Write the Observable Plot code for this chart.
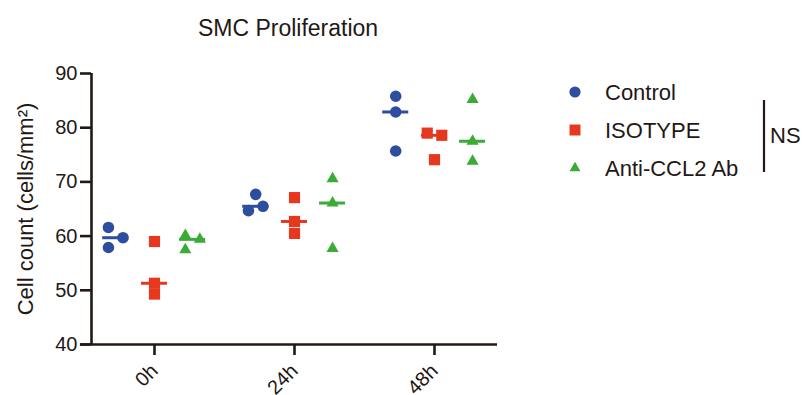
<!DOCTYPE html>
<html>
<head>
<meta charset="utf-8">
<script src="https://cdn.jsdelivr.net/npm/d3@7"></script>
<script src="https://cdn.jsdelivr.net/npm/@observablehq/plot@0.6"></script>
<style>
  body { margin: 0; background: #fff; }
  #wrap { position: relative; width: 806px; height: 395px; font-family: "Liberation Sans", Arial, Helvetica, sans-serif; color: #231815; }
  #title { position: absolute; left: 138px; width: 300px; top: 17px; text-align: center; font-size: 23px; line-height: 23px; }
</style>
</head>
<body>
<div id="wrap"><div id="title">SMC Proliferation</div></div>
<script>
// ---------- data ----------
const timepoints = ["0h", "24h", "48h"];
const groups = ["Control", "ISOTYPE", "Anti-CCL2 Ab"];
const groupColors = ["#2d4e9f", "#e6381f", "#3aab35"];
const groupSymbols = ["circle", "square", "triangle"];
// replicate values (cells/mm²), one inner array per timepoint
const controlValues = [[61.6, 57.9, 59.7], [67.7, 64.7, 65.5], [85.8, 82.9, 75.7]];
const isotypeValues = [[59.0, 51.3, 49.3], [67.1, 62.7, 60.5], [79.0, 78.6, 74.1]];
const antiValues    = [[60.1, 57.5, 59.4], [70.6, 66.1, 57.7], [85.2, 77.5, 73.8]];
// dodge slot of each replicate (how overlapping points were spread sideways)
const controlSlots = [[-1, -1, 1], [0, -1, 1], [0, 0, 0]];
const isotypeSlots = [[0, 0, 0], [0, 0, 0], [-1, 1, 0]];
const antiSlots    = [[-1, -1, 1], [0, 0, 0], [0, 0, 0]];
const yTicks = [40, 50, 60, 70, 80, 90];

// ---------- build tables ----------
const allValues = [controlValues, isotypeValues, antiValues];
const allSlots = [controlSlots, isotypeSlots, antiSlots];
const groupOffset = [-0.277, 0, 0.272];
const slotWidth = 0.052;
const halfMedian = 0.093;

const points = [];
const medians = [];
groups.forEach((g, gi) => {
  timepoints.forEach((t, ti) => {
    const vals = allValues[gi][ti];
    const center = ti + groupOffset[gi];
    vals.forEach((v, k) => {
      points.push({group: g, gi, time: t, x: center + allSlots[gi][ti][k] * slotWidth, y: v});
    });
    medians.push({group: g, gi, x1: center - halfMedian, x2: center + halfMedian, y: d3.median(vals)});
  });
});

const ink = "#231815";
const xMin = -0.45, xMax = 2.45;
const symbolR = [5.8, 6.3, 4.5];

const chart = Plot.plot({
  width: 806,
  height: 395,
  marginLeft: 91,
  marginRight: 309,
  marginTop: 73,
  marginBottom: 51,
  x: {domain: [xMin, xMax]},
  y: {domain: [40, 90]},
  style: {fontFamily: '"Liberation Sans", Arial, Helvetica, sans-serif', color: ink, background: "transparent", overflow: "visible"},
  marks: [
    Plot.ruleY([40], {x1: xMin - 0.079, x2: xMax, stroke: ink, strokeWidth: 2.6}),
    Plot.ruleX([xMin], {y1: 40, y2: 90, stroke: ink, strokeWidth: 2.6}),
    Plot.axisY({ticks: yTicks, tickSize: 11, tickPadding: 3, fontSize: 20, stroke: ink, strokeWidth: 2.6, label: null}),
    Plot.axisX({ticks: [0, 1, 2], tickFormat: i => timepoints[i], tickSize: 11, tickPadding: 12, tickRotate: -45, fontSize: 20, stroke: ink, strokeWidth: 2.6, label: null}),
    Plot.text(["Cell count (cells/mm²)"], {frameAnchor: "left", textAnchor: "middle", rotate: -90, dx: -66, fontSize: 22, fill: ink}),
    Plot.ruleY(medians, {x1: "x1", x2: "x2", y: "y", stroke: d => groupColors[d.gi], strokeWidth: 3}),
    ...groupSymbols.map((s, gi) =>
      Plot.dot(points.filter(p => p.gi === gi), {x: "x", y: "y", symbol: () => s, fill: groupColors[gi], stroke: "none", r: symbolR[gi]})
    )
  ]
});
document.getElementById("wrap").appendChild(chart);

// ---------- legend and NS bracket ----------
const svg = d3.select(chart);
const legend = svg.append("g").attr("font-size", 22).attr("fill", ink).attr("text-anchor", "start");
const legendSymbols = [d3.symbolCircle, d3.symbolSquare, d3.symbolTriangle];
const legendSize = [Math.PI * 5.6 * 5.6, 121, 52];
groups.forEach((g, gi) => {
  const cy = 92 + gi * 38;
  legend.append("path")
    .attr("transform", `translate(575,${cy})`)
    .attr("d", d3.symbol(legendSymbols[gi], legendSize[gi])())
    .attr("fill", groupColors[gi]);
  legend.append("text").attr("x", 605).attr("y", cy).attr("dy", "0.36em").text(g);
});
svg.append("line").attr("x1", 764).attr("x2", 764).attr("y1", 100).attr("y2", 172).attr("stroke", ink).attr("stroke-width", 2.2);
svg.append("text").attr("x", 770).attr("y", 135).attr("dy", "0.36em").attr("font-size", 22).attr("text-anchor", "start").attr("fill", ink).text("NS");
</script>
</body>
</html>
